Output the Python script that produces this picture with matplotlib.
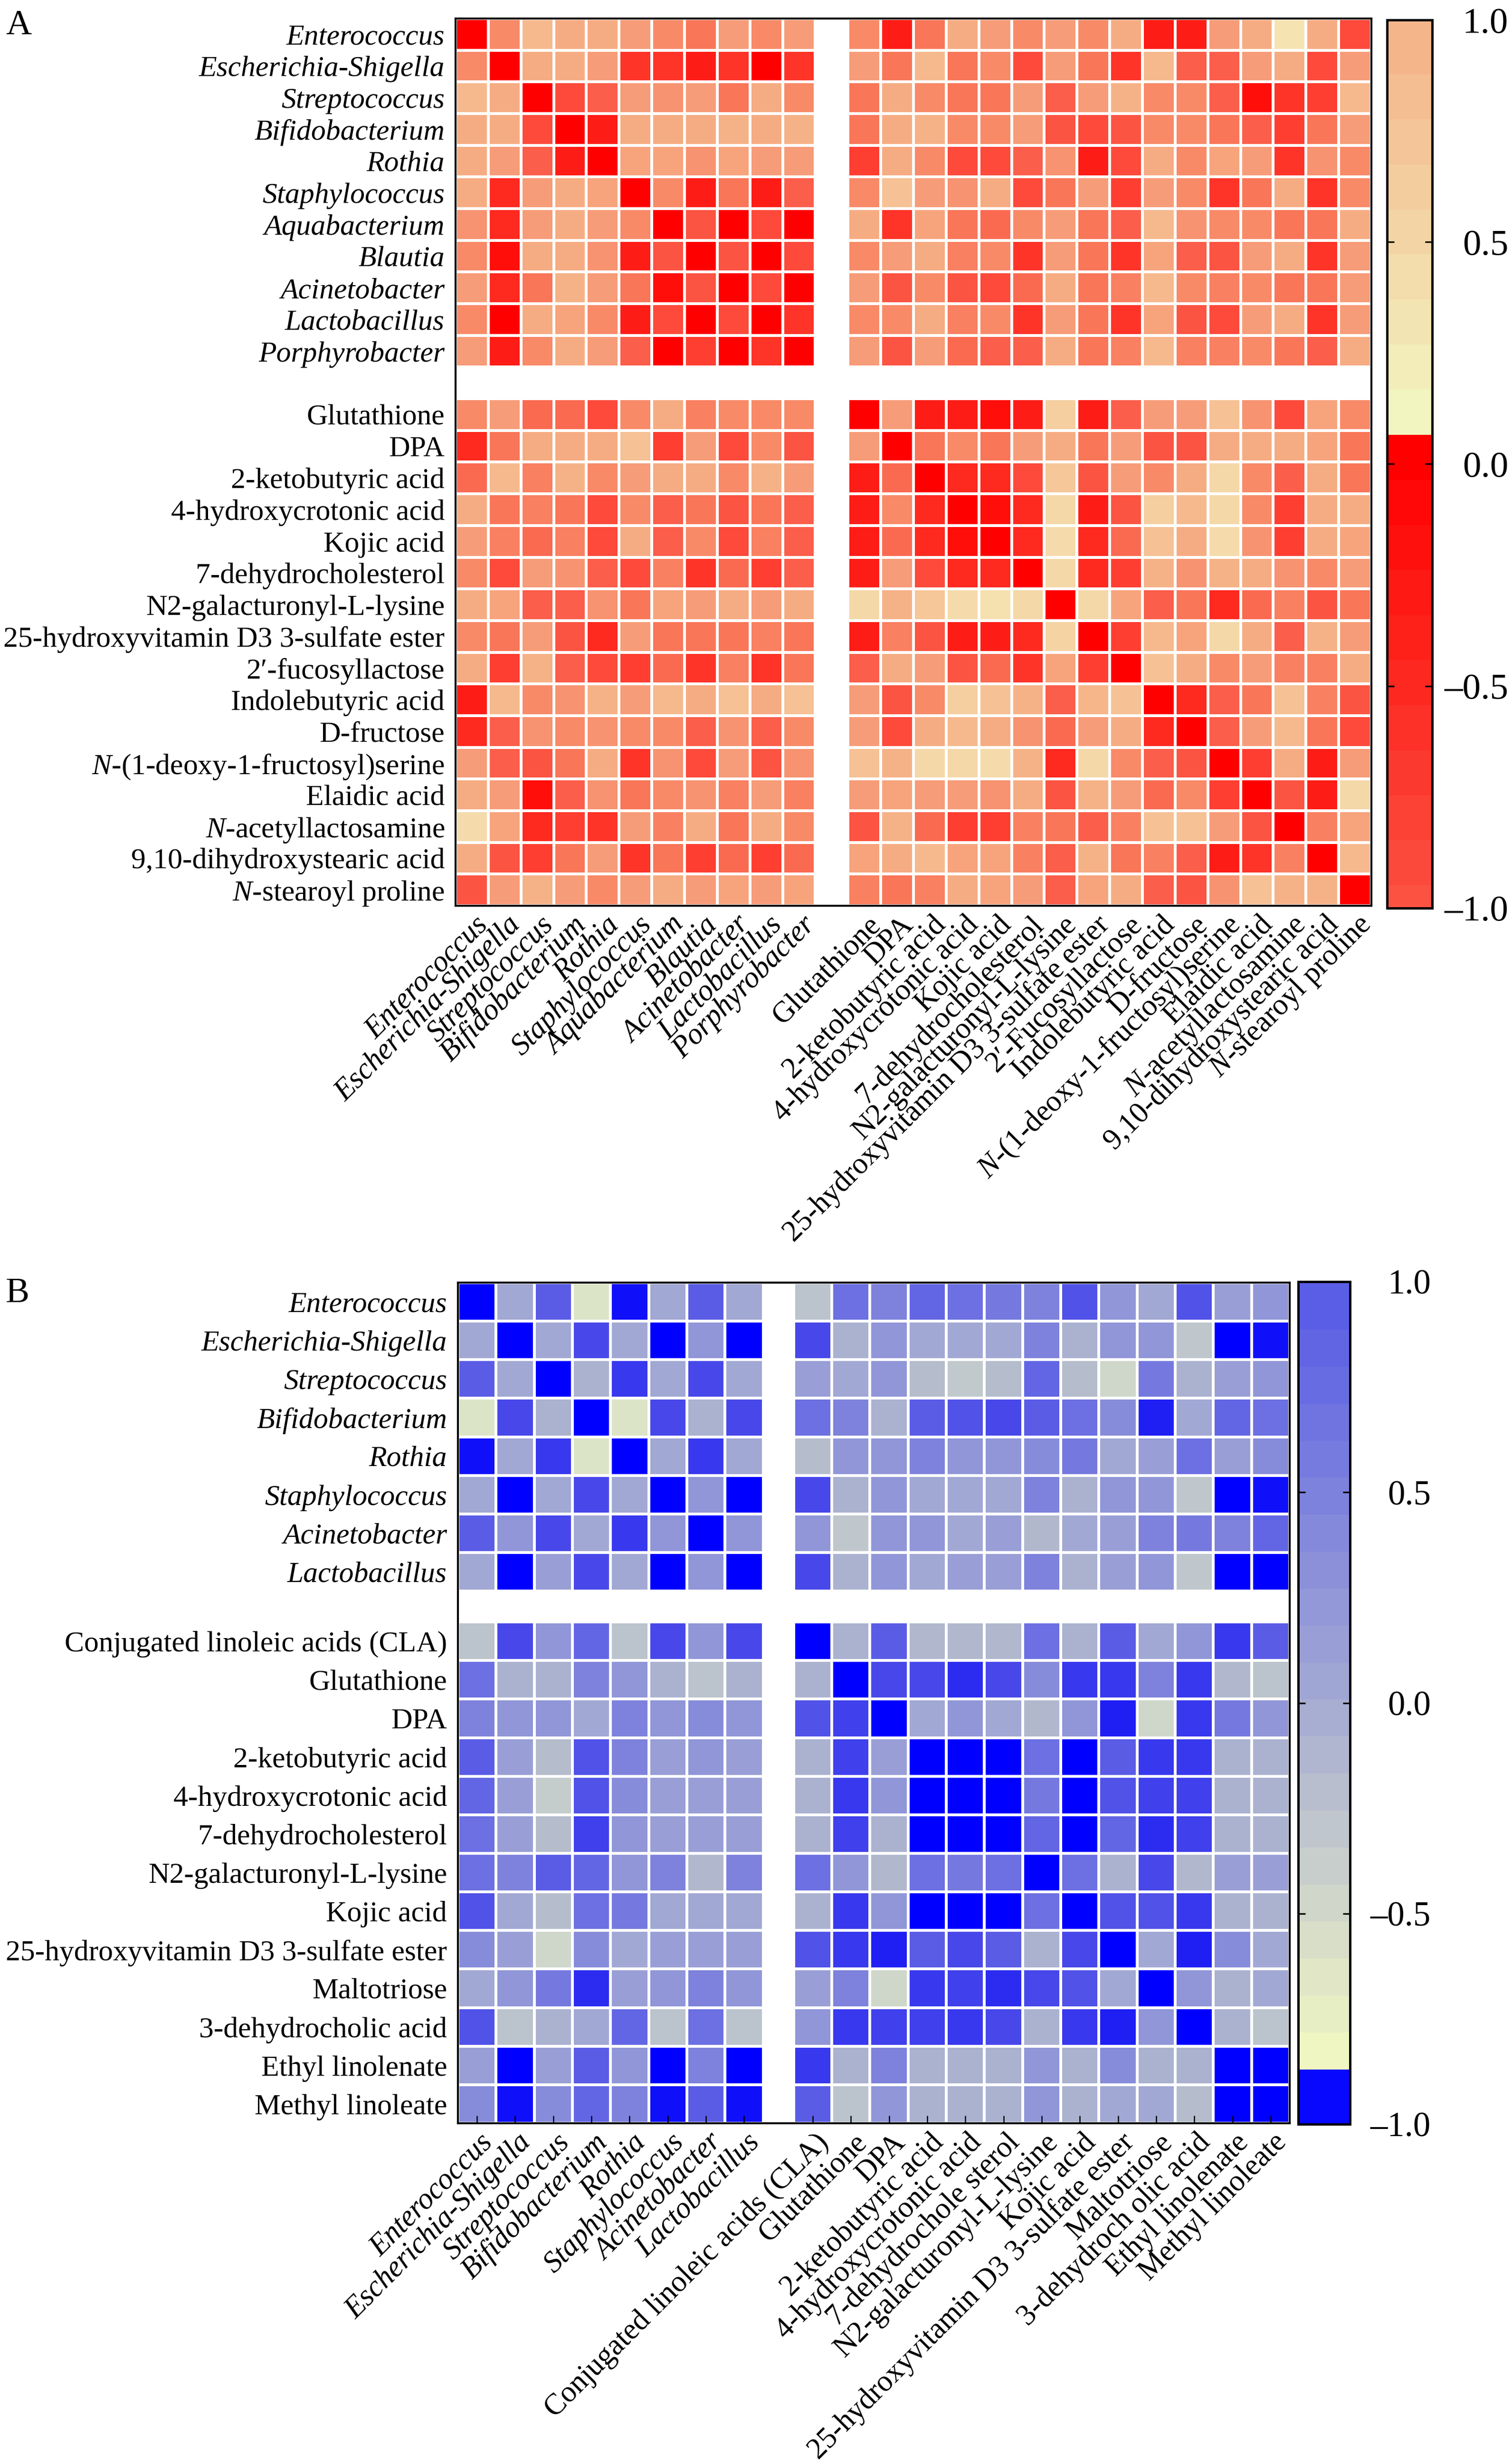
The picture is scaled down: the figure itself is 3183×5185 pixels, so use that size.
import numpy as np
import matplotlib
matplotlib.use("Agg")
import matplotlib.pyplot as plt
import matplotlib.transforms as mtransforms
from matplotlib.colors import LinearSegmentedColormap, ListedColormap, BoundaryNorm, to_rgb
from matplotlib.cm import ScalarMappable

plt.rcParams['font.family'] = ['Liberation Serif', 'DejaVu Serif']
plt.rcParams['mathtext.fontset'] = 'custom'
plt.rcParams['mathtext.rm'] = 'Liberation Serif'
plt.rcParams['mathtext.it'] = 'Liberation Serif:italic'

# ---------------- data: panel A ----------------
a_bacteria = ["Enterococcus", "Escherichia-Shigella", "Streptococcus", "Bifidobacterium",
              "Rothia", "Staphylococcus", "Aquabacterium", "Blautia", "Acinetobacter",
              "Lactobacillus", "Porphyrobacter"]
a_metab_rows = ["Glutathione", "DPA", "2-ketobutyric acid", "4-hydroxycrotonic acid", "Kojic acid",
                "7-dehydrocholesterol", "N2-galacturonyl-L-lysine",
                "25-hydroxyvitamin D3 3-sulfate ester", "2\u2032-fucosyllactose",
                "Indolebutyric acid", "D-fructose", r"$\mathit{N}$-(1-deoxy-1-fructosyl)serine",
                "Elaidic acid", r"$\mathit{N}$-acetyllactosamine", "9,10-dihydroxystearic acid",
                r"$\mathit{N}$-stearoyl proline"]
a_metab_cols = ["Glutathione", "DPA", "2-ketobutyric acid", "4-hydroxycrotonic acid", "Kojic acid",
                "7-dehydrocholesterol", "N2-galacturonyl-L-lysine",
                "25-hydroxyvitamin D3 3-sulfate ester", "2\u2032-Fucosyllactose",
                "Indolebutyric acid", "D-fructose", r"$\mathit{N}$-(1-deoxy-1-fructosyl)serine",
                "Elaidic acid", r"$\mathit{N}$-acetyllactosamine", "9,10-dihydroxystearic acid",
                r"$\mathit{N}$-stearoyl proline"]

# cell intensity (0 = palest, 10 = pure red)
a_levels = [
    [10,4,1,2,2,3,4,5,3,4,3, 4,9,5,2,3,4,3,4,2,9,9,3,2,0,2,7],
    [4,10,2,2,3,8,8,9,8,10,8, 3,5,1,5,4,7,3,5,8,1,6,6,3,2,7,3],
    [1,2,10,7,6,3,3.5,3,5,2,4, 5,2,4,5,5,3,6,3,1.5,4,4,6,9.5,8,7.5,1],
    [2,2,7,10,9,2,2,2,1.5,2,1.5, 5,2,1.5,4,4,3,6.5,7,6.5,4,4,5,6,7.5,5,3],
    [2,3,6,9,10,2.5,2.5,3.5,2.5,3,3, 7.5,2,4,7,7,6,3.5,9,7,2,4,2.5,3,8,3.5,4],
    [2,8.5,3,2,2.5,10,4,9,5,9,6, 4,0.8,3,3.5,2,7,5,3,7.5,3,4,8,5,2,8,4],
    [3.5,8.5,3,2,3,4,10,6.5,10,7,10, 2,8,2.5,5,5.5,4,3,5,6,1,3.5,4,4,5,5,2],
    [4,9.5,2,2,3.5,9,6.5,10,6.5,10,7, 4,3,2,4.5,4,8,3,5,8,2.5,6,6.5,3,2,8,3],
    [3,8.5,5,1.5,3,5,9.5,6.5,10,7,10, 3,6.5,4,6.5,7,5.5,2,5,4.5,1,4,4.5,4,5,5,3],
    [4,10,2,2.5,4,9,7,10,7,10,8, 4,4,2,4.5,4,8,3,5,8,2.5,6.5,7,3,2,8,3],
    [3,9,4,2,3,6,10,7.5,10,8,10, 3,6.5,3,5.5,6,6,2,5,4.5,1,4.5,4.5,4,5,6,2],
    [4,3,5.5,5.5,7,4,2,4.5,4,4,4, 10,3,9,9,9.5,9,0.5,9,6,3,3,0.8,3.5,7,2.5,4],
    [8.5,5,2,2,2,0.8,7.5,3,7,4,6.5, 3,10,5,4,5,3,2,5,3,6.5,6.5,2,2,2,2.5,5],
    [5.5,1,4.5,1.5,4,3,2,2,4,1.5,3, 9,5.5,10,8.5,8.5,7,0.7,6.5,3,4,2,0.3,4,6,2,5],
    [2,5,4.5,5,7,4,6,5,6.5,5,6, 9,4,8.5,10,9.5,8.5,0.3,9,6.5,0.5,1,0.3,4,7.5,2,2],
    [3,4.5,5.5,4.5,7,2,6,4,7,4.5,6, 9,5.5,8.5,9.5,10,8.5,0.2,8.5,5.5,0.8,2,0.2,3.5,7.5,2,2.5],
    [4,7,3,3.5,6,7,4.5,8,5.5,7.5,6, 9,3,7,8.5,8.5,10,0.3,8.5,7.5,1.5,3.5,1.5,2,3.5,4,3],
    [2,2.5,6,6,3.5,5,2.5,3,2,3,2, 0.3,1.5,0.7,0.2,0.1,0.3,10,0.3,2.5,6,5,8.5,5.5,4.5,6.5,5],
    [4,5,3,6.5,8.5,3,5,5,5,4.5,5, 9,4.5,6.5,9,9,8.5,0.4,10,7.5,1,2.5,0.3,2,6,1.5,3],
    [2,7.5,1.5,6,7,7.5,5.5,8,4.5,8,5, 6,2,3,6.5,5.5,8,2.5,7.5,10,0.8,2,4,3,4.5,4.5,2],
    [9,1,4,3.5,1.5,3,1,2,0.8,2,0.8, 3,6.5,4,0.5,0.8,1.5,6,1.2,0.8,10,8.5,6,5,0.8,4.5,6.5],
    [8.5,6,3.5,4,3.5,4,4,6,3.5,6,4, 3,7,2,1,2,3.5,5.5,3,2,8.5,10,6,3,1,5,7],
    [3,6,6.5,5,2,8,3.5,7,3,6.5,3.5, 0.8,1.5,0.3,0.3,0.2,1.5,8.5,0.3,4,6,6.5,10,7.5,2,9,3],
    [2,3,9.5,6,3.5,5,4,3.5,4.5,3,4.5, 3,2.5,3,3,3.5,2,6.5,1.5,3,5.5,4,7.5,10,6.5,9,0.3],
    [0.2,2.5,8.5,7.5,8,3,4.5,2,5,2,4, 6.5,1.5,5.5,7.5,7.5,4.5,5,6,4.5,0.8,0.8,3,6.5,10,4.5,2.5],
    [2,6.5,7.5,5,3,8,5,7.5,5.5,7.5,5.5, 2.5,2,1,2.5,2.5,4.5,6,1.5,5,4.5,6,9,8,4.5,10,1],
    [6.5,3,1.5,3,4,3,2,3,2.5,3,2.5, 4.5,5,4.5,2,2.5,3,6,2.5,2,6,6.5,3.5,0.8,1.5,1.5,10],
]

# ---------------- data: panel B ----------------
b_bacteria = ["Enterococcus", "Escherichia-Shigella", "Streptococcus", "Bifidobacterium",
              "Rothia", "Staphylococcus", "Acinetobacter", "Lactobacillus"]
b_metab_rows = ["Conjugated linoleic acids (CLA)", "Glutathione", "DPA", "2-ketobutyric acid",
                "4-hydroxycrotonic acid", "7-dehydrocholesterol", "N2-galacturonyl-L-lysine",
                "Kojic acid", "25-hydroxyvitamin D3 3-sulfate ester", "Maltotriose",
                "3-dehydrocholic acid", "Ethyl linolenate", "Methyl linoleate"]
b_metab_cols = ["Conjugated linoleic acids (CLA)", "Glutathione", "DPA", "2-ketobutyric acid",
                "4-hydroxycrotonic acid", "7-dehydrochole sterol", "N2-galacturonyl-L-lysine",
                "Kojic acid", "25-hydroxyvitamin D3 3-sulfate ester", "Maltotriose",
                "3-dehydroch olic acid", "Ethyl linolenate", "Methyl linoleate"]

# cell intensity (0 = pale, 10 = pure blue)
b_levels = [
    [10,2,6,0,9.5,2,6,2, 0.8,5,4,5.5,5,4.5,4,6.5,3,2,6.5,2.5,3],
    [2,10,2,7,2,10,3,10, 7,1.5,3,2,2,2,4,1.5,3,3,0.7,10,9.5],
    [6,2,10,1.5,8,2,7,2, 2.5,2,3,1,0.6,1,5.5,1,0.3,4.5,1.5,2.5,3],
    [0,7,1.5,10,0,7,1.5,7, 5,4,1.5,6,6.5,7,6,5,3.5,9,2,5.5,5],
    [9.5,2,8,0,10,2,8,2, 1,3,3,4,3,3,3.5,4.5,2,2.5,5,2.5,3.5],
    [2,10,2,7,2,10,3,10, 7,1.5,3,2,2,2,4,1.5,3,3,0.7,10,9.5],
    [6,3,7,2,8,3,10,3, 3,0.7,3,3,2,2.5,1.2,2,2.5,4,4.5,4,5.5],
    [2,10,2.5,7,2,10,3,10, 7,1.5,3,2,2.5,2.5,4,1.5,2.5,3,0.7,10,10],
    [0.8,7,3,5.5,0.8,7,3,7, 10,1.5,6,1.2,1.2,1.2,5,1.5,6,2,3,8,6],
    [5,1.5,1.5,4,3,1.5,0.8,1.5, 1.5,10,7,7,8.5,7,3.5,8,8,4,8,1.2,0.8],
    [4,3,3,2,4,3,3.5,3, 6.5,7.5,10,2,3,2,1.2,3,9,0.3,8,4.5,3],
    [6,2.5,1,6.5,4,2.5,3,2.5, 1.5,7.5,2.5,10,10,10,5,10,6,8,8,1.5,1.5],
    [5.5,2.5,0.5,6.5,3.5,2.5,2.5,2.5, 1.5,8,3,10,10,10,4.5,10,6.5,7.5,7.5,1.5,1.5],
    [5,2.5,1,7.5,3,2.5,2.5,2.5, 1.5,7.5,1.5,10,10,10,5.5,10,5.5,8.5,7.5,1.5,1.5],
    [5,4,6,5.5,3,4,1.2,4, 5,3,1.2,5,4.5,5,10,5,1.5,7,1.2,2.5,2.5],
    [6.5,2,1,5,4.5,2,2,2, 1.5,8,3,10,10,10,5,10,6.5,6.5,8,1.5,1.5],
    [3.5,2.5,0.3,3.5,2,2.5,2.5,2.5, 6.5,8,9,6,7,6,1.5,7,10,2,9,3.5,2],
    [2,3,4.5,8.5,2.5,3,4,3, 2.5,4,0.3,8,7.5,8.5,7,6.5,2,10,3,1.5,2],
    [6.5,0.8,1.5,2,5.5,0.8,5,0.8, 3,8,7.5,7.5,8,7,1.5,8,9,3,10,1.5,0.8],
    [2.5,10,2.5,6,3,10,4,10, 8,1.5,4,1.5,1.5,1.5,3,1.5,3.5,1.5,1.5,10,10],
    [3.5,9.5,3.5,5.5,4,9.5,6,9.5, 6,0.8,3,1.5,1.5,1.5,3,1.5,2,2,1,10,10],
]

cbar_ticks = [-1.0, -0.5, 0.0, 0.5, 1.0]
cbar_ticklabels = ["\u20131.0", "\u20130.5", "0.0", "0.5", "1.0"]

# ---------------- styles ----------------
cell_cmap_a = LinearSegmentedColormap.from_list("cellA", [
    (0.0, "#f5e4b2"), (0.1, "#f6b88c"), (0.2, "#f6ac82"), (0.3, "#f79c78"),
    (0.4, "#f88a68"), (0.5, "#f97658"), (0.6, "#fb5e4a"), (0.7, "#fd4a3b"),
    (0.8, "#fe3428"), (0.9, "#fe1e16"), (1.0, "#ff0000")])
cell_cmap_b = LinearSegmentedColormap.from_list("cellB", [
    (0.0, "#dce4c8"), (0.05, "#c4cccc"), (0.1, "#b4bccc"), (0.2, "#a2a8d4"),
    (0.3, "#9096d8"), (0.4, "#7e82dc"), (0.5, "#6c70e2"), (0.6, "#5a5ce6"),
    (0.7, "#4848ea"), (0.8, "#3838ee"), (0.9, "#2020f4"), (1.0, "#0000ff")])


def blend(c1, c2, n):
    a, b = np.array(to_rgb(c1)), np.array(to_rgb(c2))
    return [tuple(a + (b - a) * t) for t in np.linspace(0, 1, n)]


# colour-bar A: 11 red bands below ~0.07, 9 pale->orange bands above
step_a = 0.1015
bounds_a = np.concatenate([[-1.0], 0.066 + step_a * np.arange(-10, 9), [1.0]])
cols_a = blend("#fb5242", "#ff0000", 11) + blend("#f2f5c0", "#f5b58b", 9)
# colour-bar B: blue band at the bottom, then pale -> blue
step_b = 0.0878
bounds_b = np.concatenate([[-1.0], -0.870 + step_b * np.arange(0, 21), [1.0]])
cols_b = ["#0808ff"] + blend("#f0f6c2", "#a8aed2", 10) + blend("#a0a6d4", "#5a5ee6", 11)

W, H = 3183, 5185
DPI = 300
fig = plt.figure(figsize=(W / DPI, H / DPI), dpi=DPI)


def fbox(x0, y0, x1, y1):
    return [x0 / W, 1 - y1 / H, (x1 - x0) / W, (y1 - y0) / H]


def edges(n1, n2, gap):
    return np.concatenate([np.arange(n1 + 1), n1 + gap + np.arange(n2 + 1)])


def with_gap(M, n1):
    M = np.asarray(M, float)
    M = np.insert(M, n1, np.nan, axis=0)
    M = np.insert(M, n1, np.nan, axis=1)
    return np.ma.masked_invalid(M)


def heatmap(box, levels, n_b, row_labels, col_labels, cmap, gap, bottom_ticks, fs_row, fs_col):
    ax = fig.add_axes(fbox(*box))
    n_m = len(levels) - n_b
    e = edges(n_b, n_m, gap)
    M = with_gap(np.asarray(levels, float) / 10.0, n_b)
    ax.pcolormesh(e, e, M, cmap=cmap, vmin=0, vmax=1, edgecolors="white", linewidth=1.0)
    ax.set_xlim(e[0], e[-1])
    ax.set_ylim(e[-1], e[0])
    centers = (e[:-1] + e[1:]) / 2
    centers = np.delete(centers, n_b)
    ax.set_yticks(centers)
    ax.set_yticklabels(row_labels, fontsize=fs_row)
    for i, lbl in enumerate(ax.get_yticklabels()):
        if i < n_b:
            lbl.set_style("italic")
    ax.tick_params(axis="y", length=0, pad=5.5)
    ax.set_xticks(centers)
    ax.set_xticklabels([])
    if bottom_ticks:
        ax.tick_params(axis="x", direction="in", length=3.8, width=0.6, bottom=True, top=False)
    else:
        ax.tick_params(axis="x", length=0)
    for s in ax.spines.values():
        s.set_linewidth(1.0)
    trans = mtransforms.blended_transform_factory(ax.transData, ax.transAxes) + \
        mtransforms.ScaledTranslation(25 / DPI, -32 / DPI, fig.dpi_scale_trans)
    for i, (c, lab) in enumerate(zip(centers, col_labels)):
        ax.text(c, 0, lab, transform=trans, rotation=45, rotation_mode="anchor",
                ha="right", va="center", fontsize=fs_col,
                style="italic" if i < n_b else "normal")
    return ax


def colorbar(box, bounds, cols, fs, pad_px):
    cax = fig.add_axes(fbox(*box))
    sm = ScalarMappable(norm=BoundaryNorm(bounds, len(cols)), cmap=ListedColormap(cols))
    cb = fig.colorbar(sm, cax=cax, spacing="proportional", ticks=cbar_ticks)
    cb.outline.set_linewidth(1.2)
    cax.set_yticklabels(cbar_ticklabels)
    cax.tick_params(axis="y", direction="in", length=3.6, width=0.8, left=True, right=True,
                    labelleft=False, labelright=True, labelsize=fs, pad=pad_px * 72 / DPI)
    for lbl in cax.get_yticklabels():
        lbl.set_horizontalalignment("right")
    cax.minorticks_off()
    return cax


# panel A
heatmap((959, 39, 2887, 1906), a_levels, len(a_bacteria), a_bacteria + a_metab_rows,
        a_bacteria + a_metab_cols, cell_cmap_a, 1.0, False, 14.8, 15)
colorbar((2920, 42, 3015, 1911), bounds_a, cols_a, 18.5, 160)
fig.text(12 / W, 1 - 20 / H, "A", fontsize=18, ha="left", va="top")

# panel B
heatmap((964, 2699, 2715, 4468), b_levels, len(b_bacteria), b_bacteria + b_metab_rows,
        b_bacteria + b_metab_cols, cell_cmap_b, 0.8, True, 14.8, 15)
colorbar((2733, 2697, 2842, 4470), bounds_b, cols_b, 17.5, 170)
fig.text(12 / W, 1 - 2688 / H, "B", fontsize=18, ha="left", va="top")

fig.savefig("out.png", dpi=DPI)
